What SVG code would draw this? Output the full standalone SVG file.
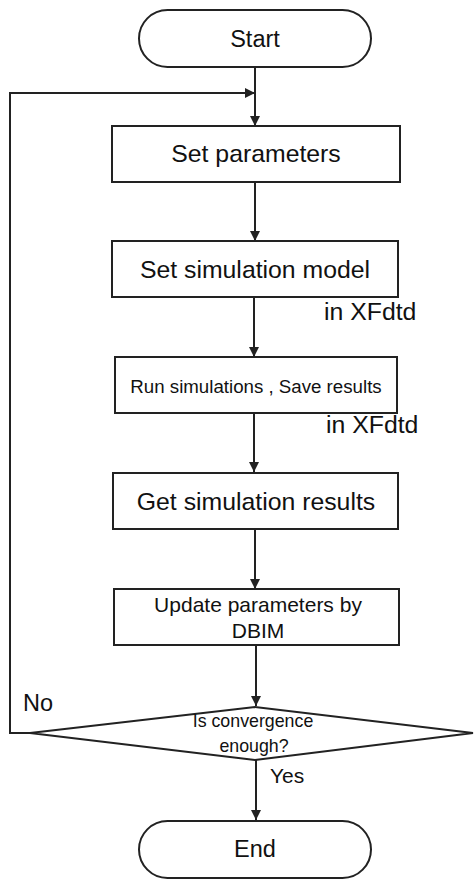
<svg xmlns="http://www.w3.org/2000/svg" width="476" height="880" viewBox="0 0 476 880">
<style>
.shape{fill:#fff;stroke:#222;stroke-width:2}
.line{fill:none;stroke:#222;stroke-width:2}
text{font-family:"Liberation Sans",Arial,sans-serif;fill:#111;text-anchor:middle}
.t24{font-size:24.8px}
.t22{font-size:23.5px}
.t21{font-size:21px}
.t18{font-size:18.7px}
.t17{font-size:17.8px}
.lbl{text-anchor:start}
</style>
<defs>
<marker id="arr" markerUnits="userSpaceOnUse" markerWidth="12" markerHeight="10" refX="10" refY="5" orient="auto">
<path d="M0,0 L10,5 L0,10 Z" fill="#222"/>
</marker>
</defs>
<g id="connectors">
<line class="line" x1="255" y1="67" x2="255" y2="126" marker-end="url(#arr)"/>
<polyline class="line" points="30,733 10,733 10,93 255,93" marker-end="url(#arr)"/>
<line class="line" x1="255" y1="182" x2="255" y2="241" marker-end="url(#arr)"/>
<line class="line" x1="254" y1="297" x2="254" y2="357" marker-end="url(#arr)"/>
<line class="line" x1="254" y1="413" x2="254" y2="472" marker-end="url(#arr)"/>
<line class="line" x1="255" y1="529" x2="255" y2="589" marker-end="url(#arr)"/>
<line class="line" x1="256" y1="645" x2="256" y2="706" marker-end="url(#arr)"/>
<line class="line" x1="256" y1="760" x2="256" y2="820" marker-end="url(#arr)"/>
<text class="t22 lbl" x="23" y="711">No</text>
<text class="t21 lbl" x="270" y="783">Yes</text>
<text class="t24 lbl" x="324" y="320">in XFdtd</text>
<text class="t24 lbl" x="326" y="433">in XFdtd</text>
</g>
<g id="start">
<rect class="shape" x="139" y="10" width="232" height="57" rx="28.5"/>
<text class="t22" x="255" y="47">Start</text>
</g>
<g id="set-parameters">
<rect class="shape" x="112" y="126" width="288" height="56"/>
<text class="t24" x="256" y="162">Set parameters</text>
</g>
<g id="set-model">
<rect class="shape" x="112" y="241" width="286" height="56"/>
<text class="t24" x="255" y="278">Set simulation model</text>
</g>
<g id="run-sim">
<rect class="shape" x="115" y="357" width="282" height="56"/>
<text class="t18" x="256" y="393">Run simulations , Save results</text>
</g>
<g id="get-results">
<rect class="shape" x="113" y="473" width="285" height="56"/>
<text class="t24" x="256" y="510">Get simulation results</text>
</g>
<g id="update">
<rect class="shape" x="114" y="589" width="285" height="56"/>
<text class="t21" x="258" y="612">Update parameters by</text>
<text class="t21" x="258" y="638">DBIM</text>
</g>
<g id="decision">
<polygon class="shape" points="30,733 255,707 473,733 255,760"/>
<text class="t17" x="253" y="727">Is convergence</text>
<text class="t17" x="254" y="752">enough?</text>
</g>
<g id="end">
<rect class="shape" x="139" y="821" width="232" height="57" rx="28.5"/>
<text class="t22" x="255" y="857">End</text>
</g>
</svg>
